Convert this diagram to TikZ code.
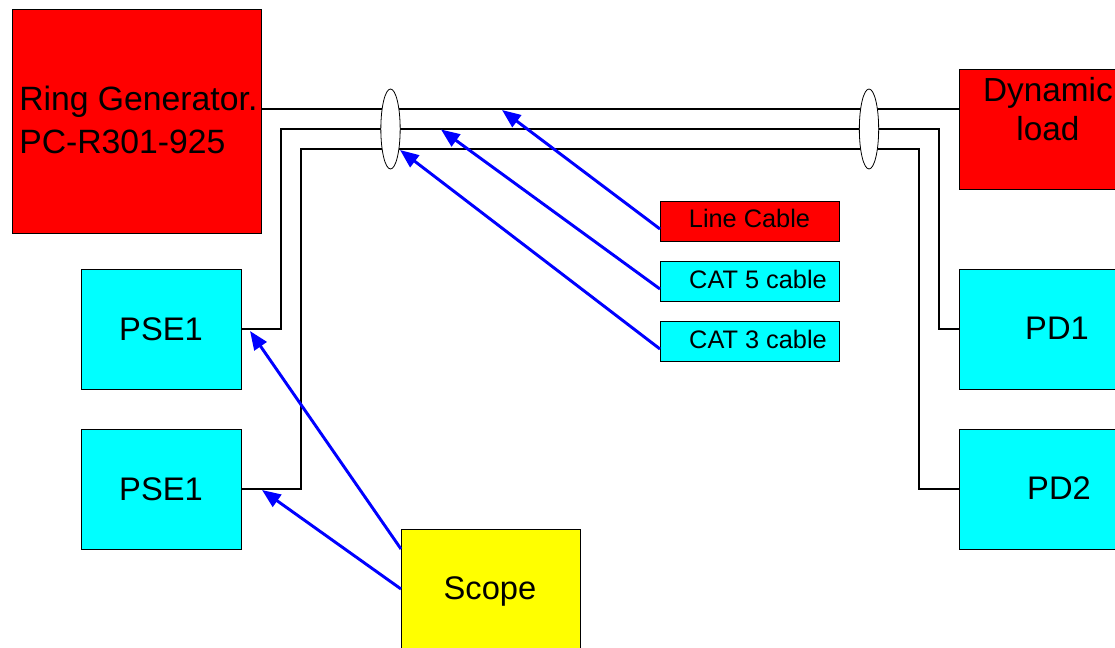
\documentclass[tikz,border=0pt]{standalone}
\usepackage{fontspec}
\setmainfont{Liberation Sans}
\usetikzlibrary{fit,arrows.meta,shapes.geometric}
\definecolor{boxred}{RGB}{255,0,0}
\definecolor{boxcyan}{RGB}{0,255,255}
\definecolor{boxyellow}{RGB}{255,255,0}
\definecolor{probeblue}{RGB}{0,0,255}
\begin{document}
\begin{tikzpicture}[x=0.75pt,y=-0.75pt,
  box/.style={draw=black, line width=0.6pt, inner sep=0pt},
  redbox/.style={box, fill=boxred},
  cyanbox/.style={box, fill=boxcyan},
  yellowbox/.style={box, fill=boxyellow},
  bigtext/.style={inner sep=0pt, font=\fontsize{24.5}{29}\selectfont},
  smalltext/.style={inner sep=0pt, font=\fontsize{19}{22}\selectfont},
  wire/.style={draw=black, line width=0.8pt},
  bundle/.style={ellipse, draw=black, fill=white, line width=0.6pt, inner sep=0pt,
    minimum width=14.5pt, minimum height=60pt},
  pointer/.style={draw=probeblue, line width=2.2pt, -{Triangle[length=14pt,width=11pt]}}]

\path[use as bounding box, clip] (0,0) rectangle (1115,648);
\fill[white] (0,0) rectangle (1115,648);

% equipment boxes
\node[redbox, fit={(12,9) (261,233)}] (ringgen) {};
\node[redbox, fit={(959,69) (1137,189)}] (dynload) {};
\node[cyanbox, fit={(81,269) (241,389)}] (pseA) {};
\node[cyanbox, fit={(81,429) (241,549)}] (pseB) {};
\node[cyanbox, fit={(959,269) (1155,389)}] (pdA) {};
\node[cyanbox, fit={(959,429) (1155,549)}] (pdB) {};
\node[yellowbox, fit={(401,529) (580,650)}] (scope) {};

% cable legend boxes
\node[redbox, fit={(660,201) (839,241)}] (linecable) {};
\node[cyanbox, fit={(660,261) (839,301)}] (catfive) {};
\node[cyanbox, fit={(660,321) (839,361)}] (catthree) {};

% labels
\node[bigtext, anchor=north west, align=left,
  font=\fontsize{25.3}{32.25}\selectfont] (ringgen-label) at (19,86) {Ring Generator.\\PC-R301-925};
\node[bigtext, anchor=north, align=center,
  font=\fontsize{25}{29.25}\selectfont] (dynload-label) at (1048,77) {Dynamic\\load};
\node[bigtext, anchor=base] (pseA-label) at (161,340.5) {PSE1};
\node[bigtext, anchor=base] (pseB-label) at (161,500.5) {PSE1};
\node[bigtext, anchor=base] (pdA-label) at (1057,340) {PD1};
\node[bigtext, anchor=base] (pdB-label) at (1059,500) {PD2};
\node[bigtext, anchor=base] (scope-label) at (490,600) {Scope};
\node[smalltext, anchor=base] (linecable-label) at (749.5,228) {Line Cable};
\node[smalltext, anchor=base] (catfive-label) at (758,288.5) {CAT 5 cable};
\node[smalltext, anchor=base] (catthree-label) at (758,348.5) {CAT 3 cable};

% cable runs
\coordinate (rg-out) at (261,109);
\draw[wire] (rg-out) -- (rg-out -| dynload.west);
\draw[wire] (pseA.east) -- (281,329) -- (281,129) -- (939,129) -- (939,329) -- (pdA.west);
\draw[wire] (pseB.east) -- (301,489) -- (301,149) -- (919,149) -- (919,489) -- (pdB.west);

% cable bundle markers
\node[bundle] (bundleA) at (390.5,129) {};
\node[bundle] (bundleB) at (869,129) {};

% legend pointers
\coordinate (lc-tail) at (660,229);
\coordinate (c5-tail) at (660,289);
\coordinate (c3-tail) at (660,349);
\coordinate (lc-tip) at (502,110);
\coordinate (c5-tip) at (441,129.5);
\coordinate (c3-tip) at (400,150);
\draw[pointer] (lc-tail) -- (lc-tip);
\draw[pointer] (c5-tail) -- (c5-tip);
\draw[pointer] (c3-tail) -- (c3-tip);

% scope probes
\coordinate (sc-upper) at (401,549);
\coordinate (sc-lower) at (401,589);
\coordinate (pA-tip) at (250,331);
\coordinate (pB-tip) at (262,490);
\draw[pointer] (sc-upper) -- (pA-tip);
\draw[pointer] (sc-lower) -- (pB-tip);
\end{tikzpicture}
\end{document}
